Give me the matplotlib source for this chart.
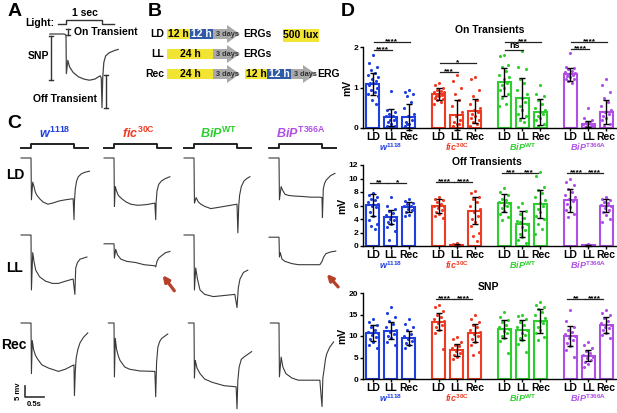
import matplotlib
matplotlib.use("Agg")
import matplotlib.pyplot as plt
from matplotlib.patches import Rectangle, Polygon, FancyArrowPatch

plt.rcParams['font.family'] = ['Liberation Sans', 'DejaVu Sans']
plt.rcParams['font.weight'] = 'bold'
plt.rcParams['mathtext.fontset'] = 'custom'
plt.rcParams['mathtext.it'] = 'Liberation Sans:italic:bold'
plt.rcParams['mathtext.bf'] = 'Liberation Sans:bold'
plt.rcParams['mathtext.rm'] = 'Liberation Sans:bold'

W, H = 617, 413

# ---------------- data ----------------
genotypes = [r"$\mathit{w}^{\mathbf{1118}}$", r"$\mathit{fic}^{\mathbf{30C}}$",
             r"$\mathit{BiP}^{\mathbf{WT}}$", r"$\mathit{BiP}^{\mathbf{T366A}}$"]
geno_colors = ['#1f3fe0', '#f03a24', '#2ccf2c', '#b04fe6']
conditions = ['LD', 'LL', 'Rec']

# panel D: means, SDs and single flies (order: w LD, LL, Rec, fic ..., BiPWT ..., BiPT366A ...)
on_mean = [1.09, 0.27, 0.28, 0.83, 0.32, 0.42, 1.13, 0.74, 0.40, 1.33, 0.10, 0.39]
on_sd = [0.27, 0.21, 0.32, 0.15, 0.37, 0.29, 0.35, 0.49, 0.32, 0.16, 0.08, 0.30]
on_dots = [
    [1.8, 1.6, 1.5, 1.42, 1.35, 1.3, 1.25, 1.2, 1.15, 1.1, 1.1, 1.05, 1.0, 0.95, 0.9, 0.85, 0.8, 0.7, 0.6],
    [0.92, 0.45, 0.4, 0.35, 0.3, 0.3, 0.25, 0.2, 0.2, 0.15, 0.1, 0.05, 0.05, 0.0],
    [0.95, 0.9, 0.85, 0.8, 0.65, 0.5, 0.35, 0.3, 0.2, 0.15, 0.1, 0.05, 0.0, 0.1],
    [1.1, 1.05, 1.0, 0.95, 0.92, 0.9, 0.88, 0.85, 0.82, 0.8, 0.78, 0.75, 0.72, 0.7, 0.65, 0.6],
    [1.3, 1.15, 1.0, 0.85, 0.7, 0.55, 0.4, 0.3, 0.2, 0.15, 0.1, 0.05, 0.0, 0.0, 0.1],
    [1.25, 1.2, 0.95, 0.8, 0.7, 0.6, 0.5, 0.45, 0.4, 0.35, 0.3, 0.25, 0.2, 0.15, 0.1, 0.05],
    [1.8, 1.78, 1.55, 1.5, 1.4, 1.3, 1.25, 1.2, 1.1, 1.05, 1.0, 0.95, 0.85, 0.75, 0.6, 0.55],
    [1.9, 1.5, 1.45, 1.2, 1.1, 0.95, 0.85, 0.75, 0.65, 0.55, 0.45, 0.35, 0.3, 0.2, 0.15],
    [1.05, 0.85, 0.8, 0.7, 0.6, 0.5, 0.45, 0.4, 0.35, 0.3, 0.25, 0.2, 0.1, 0.05, 0.0],
    [1.85, 1.5, 1.48, 1.45, 1.4, 1.38, 1.35, 1.32, 1.3, 1.28, 1.25, 1.22, 1.2, 1.15, 1.1],
    [0.5, 0.25, 0.2, 0.15, 0.12, 0.1, 0.08, 0.05, 0.05, 0.03, 0.02, 0.0, 0.0],
    [1.2, 1.05, 0.9, 0.75, 0.65, 0.55, 0.45, 0.4, 0.35, 0.3, 0.25, 0.2, 0.1, 0.05, 0.0],
]
off_mean = [6.1, 4.3, 5.8, 5.9, 0.15, 5.2, 6.4, 3.3, 6.2, 6.8, 0.1, 6.0]
off_sd = [1.6, 1.1, 0.7, 1.0, 0.15, 2.0, 1.3, 1.9, 2.1, 1.7, 0.1, 0.9]
off_dots = [
    [7.9, 7.5, 7.2, 7.0, 6.8, 6.5, 6.2, 6.0, 5.8, 5.0, 4.5, 3.8, 3.2, 2.9, 2.5],
    [7.2, 6.0, 5.5, 5.2, 4.9, 4.6, 4.3, 4.0, 3.8, 3.5, 3.2, 2.8, 2.2, 0.9],
    [7.0, 6.6, 6.4, 6.2, 6.0, 5.9, 5.7, 5.5, 5.3, 5.0, 4.6, 4.5],
    [7.3, 7.0, 6.8, 6.5, 6.2, 6.0, 5.8, 5.6, 5.4, 5.0, 4.8, 4.5, 4.2],
    [0.5, 0.3, 0.2, 0.1, 0.05, 0.0, 0.0, 0.1],
    [8.2, 7.8, 7.3, 7.0, 6.5, 6.0, 5.5, 5.0, 4.5, 4.0, 3.5, 3.0, 2.0, 1.5, 0.8],
    [8.6, 8.0, 7.5, 7.0, 6.8, 6.5, 6.3, 6.1, 5.9, 5.6, 5.2, 4.8, 4.3, 3.8],
    [6.3, 5.8, 5.2, 4.8, 4.2, 3.7, 3.2, 2.8, 2.3, 1.8, 1.3, 0.9, 0.5, 3.5],
    [11.0, 10.4, 8.8, 8.3, 7.8, 7.2, 6.8, 6.4, 6.0, 5.5, 5.0, 4.5, 4.0, 3.2, 2.5, 1.8],
    [10.0, 9.5, 9.0, 8.4, 8.0, 7.6, 7.2, 6.9, 6.6, 6.2, 5.8, 5.3, 4.8, 4.3],
    [0.3, 0.2, 0.1, 0.05, 0.0, 0.0],
    [7.3, 7.0, 6.8, 6.5, 6.3, 6.1, 5.9, 5.6, 5.3, 5.0, 4.6, 3.6, 4.0],
]
snp_mean = [10.7, 11.2, 9.5, 13.3, 6.7, 10.7, 11.6, 11.4, 13.5, 10.0, 5.4, 12.6]
snp_sd = [1.8, 2.0, 1.7, 2.0, 1.4, 2.2, 2.1, 2.3, 2.8, 2.3, 1.3, 1.8]
snp_dots = [
    [14.0, 13.2, 12.5, 12.0, 11.5, 11.0, 10.6, 10.2, 9.8, 9.3, 8.7, 8.0, 7.3],
    [16.8, 15.4, 14.5, 13.5, 12.8, 12.0, 11.4, 11.0, 10.5, 10.0, 9.5, 8.6, 8.0],
    [13.9, 12.8, 12.0, 11.3, 10.5, 10.0, 9.6, 9.2, 8.8, 8.3, 7.8, 7.2],
    [17.3, 16.8, 15.9, 15.0, 14.5, 14.0, 13.5, 13.0, 12.5, 12.0, 11.5, 10.8, 7.0],
    [9.8, 9.2, 8.5, 8.0, 7.6, 7.2, 6.8, 6.4, 6.0, 5.6, 5.1, 4.6],
    [14.8, 14.0, 13.2, 12.5, 12.0, 11.4, 11.0, 10.5, 10.0, 9.4, 8.7, 7.8, 6.2, 5.5],
    [15.6, 14.4, 13.8, 13.2, 12.6, 12.0, 11.6, 11.2, 10.7, 10.1, 9.5, 8.9, 6.0],
    [15.0, 14.6, 13.9, 13.3, 12.6, 12.0, 11.4, 10.8, 10.2, 9.6, 9.0, 8.2, 6.2],
    [17.9, 17.3, 16.8, 16.2, 15.6, 15.0, 14.2, 13.6, 13.0, 12.2, 11.5, 10.6, 9.8, 9.0],
    [16.0, 13.5, 12.2, 11.5, 11.0, 10.5, 10.0, 9.5, 9.0, 8.4, 7.6, 6.8, 5.2],
    [8.6, 7.8, 7.2, 6.5, 6.0, 5.6, 5.2, 4.8, 4.4, 4.0, 3.5, 2.8],
    [16.0, 15.4, 14.8, 14.2, 13.6, 13.0, 12.6, 12.2, 11.8, 11.3, 10.8, 10.2, 9.6],
]
# significance: (genotype, cond a, cond b, height, label)
on_sig = [(0, 0, 1, 1.93, '****'), (0, 0, 2, 2.12, '****'), (1, 0, 1, 1.38, '***'),
          (1, 0, 2, 1.6, '*'), (2, 0, 1, 1.93, 'ns'), (2, 0, 2, 2.12, '***'),
          (3, 0, 1, 1.95, '****'), (3, 0, 2, 2.12, '****')]
off_sig = [(0, 0, 1, 9.3, '**'), (0, 1, 2, 9.3, '*'), (1, 0, 1, 9.5, '****'), (1, 1, 2, 9.5, '****'),
           (2, 0, 1, 10.8, '***'), (2, 1, 2, 10.8, '***'), (3, 0, 1, 10.8, '****'), (3, 1, 2, 10.8, '****')]
snp_sig = [(1, 0, 1, 18.6, '****'), (1, 1, 2, 18.6, '****'), (3, 0, 1, 18.6, '**'), (3, 1, 2, 18.6, '****')]

# ERG traces (time in s from light on, mV)
light_t = [-0.23, 0, 0, 1.0, 1.0, 1.32]
light_v = [4.5, 4.5, 6.4, 6.4, 4.5, 4.5]
trace_A = [(-0.45, 0), (-0.05, 0), (0, -0.5), (0.01, -18), (0.05, -12), (0.1, -15), (0.2, -17.5),
           (0.35, -19.5), (0.5, -20.5), (0.65, -21), (0.8, -20.5), (0.95, -19), (0.98, -20),
           (1.0, -33.5), (1.02, -20), (1.05, -13), (1.1, -10), (1.2, -8.5), (1.35, -7.5), (1.45, -7)]
trace_w_LD = [(-0.23, 0), (0, 0), (0.01, -19), (0.04, -11), (0.07, -13), (0.1, -15.5), (0.14, -17),
              (0.2, -18.5), (0.28, -20), (0.39, -21), (0.5, -20.5), (0.66, -19.5), (0.8, -19),
              (0.98, -18.5), (1.0, -28), (1.01, -20), (1.03, -14), (1.06, -10.5), (1.1, -8.5),
              (1.17, -7.2), (1.25, -6.5), (1.36, -6)]
trace_fic_LD = [(-0.23, 0), (0, 0), (0.01, -22), (0.03, -13), (0.06, -15), (0.1, -17), (0.18, -18.5),
                (0.28, -20), (0.39, -21), (0.55, -21.5), (0.75, -21.2), (0.95, -20.5), (0.97, -28),
                (0.98, -20), (1.0, -15), (1.04, -12), (1.1, -10.5), (1.18, -9.5), (1.3, -8.5)]
trace_wt_LD = [(-0.23, 0), (0, 0), (0.01, -20.5), (0.05, -18), (0.1, -20), (0.16, -21), (0.25, -22),
               (0.39, -23), (0.55, -22.5), (0.7, -22), (0.85, -21.5), (1.0, -21), (1.02, -34),
               (1.04, -22), (1.06, -17), (1.1, -13), (1.16, -10.5), (1.23, -9.3), (1.3, -8.5)]
trace_t366_LD = [(-0.23, 0), (0, 0), (0.01, -19), (0.05, -13), (0.08, -14.5), (0.14, -16.5),
                 (0.22, -17), (0.36, -17.3), (0.55, -17.5), (0.73, -17.8), (0.95, -17.8), (1.0, -18),
                 (1.01, -27), (1.03, -14), (1.06, -11.5), (1.1, -10), (1.2, -8), (1.3, -7)]
trace_w_LL = [(-0.23, 0), (0, 0), (0.01, -25), (0.04, -8), (0.07, -12), (0.11, -16), (0.2, -19),
              (0.34, -21), (0.5, -22), (0.64, -22), (0.8, -21), (0.98, -20), (1.02, -27),
              (1.04, -15), (1.08, -12.5), (1.14, -11), (1.22, -10.5), (1.3, -10)]
trace_fic_LL = [(-0.23, -4), (0, -4), (0.01, -10.5), (0.04, -6.5), (0.08, -9), (0.16, -11), (0.3, -12),
                (0.5, -12.5), (0.7, -13.5), (0.95, -14), (0.97, -14.5), (1.0, -12), (1.04, -10.5),
                (1.1, -9.5), (1.2, -8), (1.3, -7.5)]
trace_wt_LL = [(-0.23, 0), (0, 0), (0.01, -25), (0.04, -15), (0.08, -20), (0.14, -25), (0.25, -27),
               (0.45, -28), (0.7, -27.5), (0.95, -27), (1.0, -33), (1.03, -24), (1.07, -20),
               (1.15, -17), (1.25, -16)]
trace_t366_LL = [(-0.23, -1), (0, -1), (0.01, -10), (0.03, -8), (0.07, -11), (0.14, -12), (0.3, -13),
                 (0.45, -13.5), (0.7, -13.5), (0.95, -13.5), (1.0, -12), (1.04, -10), (1.09, -8.5),
                 (1.2, -7.7), (1.32, -7.3)]
trace_w_Rec = [(-0.23, 0), (0, 0), (0.01, -23), (0.03, -8), (0.06, -12), (0.1, -14.5), (0.14, -16),
               (0.25, -19), (0.41, -20.5), (0.64, -22), (0.8, -21), (1.0, -19), (1.01, -33),
               (1.03, -22), (1.05, -16), (1.09, -12), (1.14, -9), (1.22, -6.5), (1.32, -4.5)]
trace_fic_Rec = [(-0.13, 0), (0, 0), (0.01, -24.5), (0.03, -7), (0.06, -12), (0.1, -15), (0.14, -17),
                 (0.25, -20), (0.36, -21), (0.6, -21.8), (0.95, -22), (0.97, -33.5), (0.99, -18),
                 (1.02, -11), (1.06, -8.5), (1.11, -7), (1.25, -5)]
trace_wt_Rec = [(-0.13, 0), (0, 0), (0.01, -25), (0.03, -17), (0.07, -20.5), (0.14, -23), (0.25, -25.5),
                (0.43, -27), (0.7, -28.5), (0.98, -29), (1.0, -39), (1.02, -26), (1.05, -20),
                (1.1, -16.5), (1.16, -15.5), (1.34, -13)]
trace_t366_Rec = [(-0.2, 0), (0, 0), (0.01, -24.5), (0.05, -15.5), (0.09, -20), (0.16, -23), (0.3, -25),
                  (0.45, -26), (0.7, -26), (0.95, -26), (1.0, -38), (1.02, -25), (1.05, -21),
                  (1.08, -16.5), (1.11, -14), (1.18, -11), (1.27, -8.6)]
traces_C = [[trace_w_LD, trace_fic_LD, trace_wt_LD, trace_t366_LD],
            [trace_w_LL, trace_fic_LL, trace_wt_LL, trace_t366_LL],
            [trace_w_Rec, trace_fic_Rec, trace_wt_Rec, trace_t366_Rec]]

# ---------------- figure ----------------
fig = plt.figure(figsize=(W / 100, H / 100), dpi=100)
ax0 = fig.add_axes([0, 0, 1, 1])
ax0.set_xlim(0, W)
ax0.set_ylim(H, 0)
ax0.axis('off')


def trace_ax(x0, y0, pxs, pxmv, tlim=(-0.5, 1.5), vlim=(-42, 8)):
    # axes placed so that t=0 sits at pixel x0 and v=0 at pixel y0
    left = x0 + tlim[0] * pxs
    w = (tlim[1] - tlim[0]) * pxs
    top = y0 - vlim[1] * pxmv
    h = (vlim[1] - vlim[0]) * pxmv
    ax = fig.add_axes([left / W, 1 - (top + h) / H, w / W, h / H])
    ax.set_xlim(tlim)
    ax.set_ylim(vlim)
    ax.axis('off')
    ax.patch.set_alpha(0)
    return ax


def bracket(x, y1, y2):
    ax0.plot([x, x], [y1, y2], color='#333333', lw=1)
    ax0.plot([x - 2, x + 2], [y1, y1], color='#333333', lw=1)
    ax0.plot([x - 2, x + 2], [y2, y2], color='#333333', lw=1)


# panel letters
for lab, x, y in [('A', 15, 12), ('B', 155, 12), ('C', 14, 124), ('D', 348, 12)]:
    ax0.text(x, y, lab, fontsize=14, fontweight='bold', ha='center', va='center')

# ---- panel A ----
axA = trace_ax(66, 34, 36, 2.2)
axA.plot(light_t, light_v, color='#333333', lw=1)
axA.plot([p[0] for p in trace_A], [p[1] for p in trace_A], color='#444444', lw=0.9)
ax0.text(25, 23, 'Light:', fontsize=7.5, ha='left', va='center')
ax0.text(85, 13, '1 sec', fontsize=7.5, ha='center', va='center')
ax0.text(74, 32, 'On Transient', fontsize=7.5, ha='left', va='center')
ax0.text(38, 56, 'SNP', fontsize=7.5, ha='center', va='center')
ax0.text(65, 99, 'Off Transient', fontsize=7.5, ha='center', va='center')
bracket(68, 29, 35)
bracket(51, 36, 80)
bracket(106, 75, 108)

# ---- panel B ----
yellow, blue, grey = '#f2e433', '#2e5aa8', '#a9a9a9'


def box(x1, x2, yc, txt, color, tcolor='black', h=10):
    ax0.add_patch(Rectangle((x1, yc - h / 2), x2 - x1, h, color=color, lw=0))
    ax0.text((x1 + x2) / 2, yc, txt, fontsize=7.5, ha='center', va='center', color=tcolor)


def garrow(x1, x2, yc):
    xh = x2 - 13
    pts = [(x1, yc - 5), (xh, yc - 5), (xh, yc - 9), (x2, yc), (xh, yc + 9), (xh, yc + 5), (x1, yc + 5)]
    ax0.add_patch(Polygon(pts, closed=True, color=grey, lw=0))
    ax0.text(x1 + 14, yc, '3 days', fontsize=5.3, ha='center', va='center', color='#333333')


rows_B = [('LD', 34), ('LL', 54), ('Rec', 74)]
for lab, yc in rows_B:
    ax0.text(164, yc, lab, fontsize=7.5, ha='right', va='center')
box(167, 190, 34, '12 h', yellow)
box(190, 213, 34, '12 h', blue, 'white')
garrow(213, 240, 34)
ax0.text(243, 34, 'ERGs', fontsize=7.5, ha='left', va='center')
box(283, 319, 35, '500 lux', yellow, h=13)
box(167, 213, 54, '24 h', yellow)
garrow(213, 240, 54)
ax0.text(243, 54, 'ERGs', fontsize=7.5, ha='left', va='center')
box(167, 213, 74, '24 h', yellow)
garrow(213, 240, 74)
box(245, 267, 74, '12 h', yellow)
box(267, 291, 74, '12 h', blue, 'white')
garrow(291, 316, 74)
ax0.text(317, 74, 'ERG', fontsize=7.5, ha='left', va='center')

# ---- panel C ----
col_x0 = [31, 114, 194, 279]
col_label_x = [55, 138, 219, 301]
row_y0 = [158, 235, 323]
for j in range(4):
    ax0.text(col_label_x[j], 133, genotypes[j], fontsize=9, color=geno_colors[j],
             ha='center', va='center')
    for i in range(3):
        ax = trace_ax(col_x0[j], row_y0[i], 43, 2.2)
        tr = traces_C[i][j]
        ax.plot([p[0] for p in tr], [p[1] for p in tr], color='#3a3a3a', lw=0.8)
        if i == 0:
            ax.plot(light_t, light_v, color='#222222', lw=1.4)
for lab, x, y in [('LD', 6, 175), ('LL', 6, 268), ('Rec', 1, 345)]:
    ax0.text(x, y, lab, fontsize=10, ha='left', va='center')
for tail, head in [((176, 293), (161, 273)), ((340, 289), (325, 272))]:
    ax0.add_patch(FancyArrowPatch(tail, head, arrowstyle='-|>', mutation_scale=9,
                                  lw=2.3, color='#b5412b'))
ax0.plot([25, 25, 44], [386, 397, 397], color='#333333', lw=1.2)
ax0.text(19, 391, '5 mv', fontsize=5.5, rotation=90, ha='center', va='center')
ax0.text(34, 405, '0.5s', fontsize=5.5, ha='center', va='center')

# ---- panel D ----
gap = 3.65
xpos = [g * gap + c for g in range(4) for c in range(3)]
dot_off = [0, -0.22, 0.22, -0.11, 0.11, -0.28, 0.28, -0.05, 0.16, -0.16]


def bar_panel(rect_px, means, sds, dots, sig, yticks, title, title_xy, sig_shift):
    left, top, right, bottom = rect_px
    ax = fig.add_axes([left / W, 1 - bottom / H, (right - left) / W, (bottom - top) / H])
    ax.patch.set_alpha(0)
    span = yticks[-1] - yticks[0]
    for k in range(12):
        c = geno_colors[k // 3]
        ax.bar(xpos[k], means[k], width=0.72, facecolor='white', edgecolor=c, lw=1.5, zorder=1)
        dx = [xpos[k] + dot_off[n % len(dot_off)] for n in range(len(dots[k]))]
        ax.scatter(dx, dots[k], s=5, color=c, zorder=2, lw=0)
        ax.errorbar(xpos[k], means[k], yerr=sds[k], color='black', lw=1, capsize=2.5,
                    capthick=1, zorder=3, clip_on=False)
    for g, a, b, yv, lab in sig:
        xa = xpos[g * 3 + a] + sig_shift[0]
        xb = xpos[g * 3 + b] + sig_shift[1]
        ax.plot([xa, xb], [yv, yv], color='#222222', lw=0.9, clip_on=False)
        if lab == 'ns':
            ax.text((xa + xb) / 2, yv + 0.05 * span, lab, fontsize=6.5, ha='center',
                    va='center', clip_on=False)
        else:
            ax.text((xa + xb) / 2, yv, lab, fontsize=6, ha='center', va='center', clip_on=False)
    ax.set_xlim(-0.55, 13.55)
    ax.set_ylim(yticks[0], yticks[-1])
    ax.set_yticks(yticks)
    ax.set_xticks(xpos)
    ax.set_xticklabels(conditions * 4, fontsize=7.5, fontweight='bold')
    ax.tick_params(axis='y', labelsize=6, pad=1, length=2.5, width=1)
    ax.tick_params(axis='x', pad=1, length=2, width=1)
    for s in ['top', 'right']:
        ax.spines[s].set_visible(False)
    for s in ['left', 'bottom']:
        ax.spines[s].set_linewidth(1)
    ax.set_ylabel('mV', fontsize=7.5, fontweight='bold', labelpad=1)
    for g in range(4):
        ax.annotate(genotypes[g], xy=(xpos[g * 3 + 1], 0), xycoords=('data', 'axes fraction'),
                    xytext=(0, -14), textcoords='offset points', fontsize=6.5,
                    color=geno_colors[g], ha='center', va='center', annotation_clip=False)
    ax0.text(title_xy[0], title_xy[1], title, fontsize=7.5, ha='center', va='center')
    return ax


bar_panel((363, 47, 617, 128), on_mean, on_sd, on_dots, on_sig, [0, 1, 2],
          'On Transients', (490, 30), (0.05, 0.05))
bar_panel((363, 165, 617, 246), off_mean, off_sd, off_dots, off_sig, [0, 2, 4, 6, 8, 10, 12],
          'Off Transients', (487, 162), (-0.15, -0.15))
bar_panel((363, 293, 617, 379), snp_mean, snp_sd, snp_dots, snp_sig, [0, 5, 10, 15, 20],
          'SNP', (488, 287), (-0.15, -0.15))

fig.savefig('out.png', dpi=100)
